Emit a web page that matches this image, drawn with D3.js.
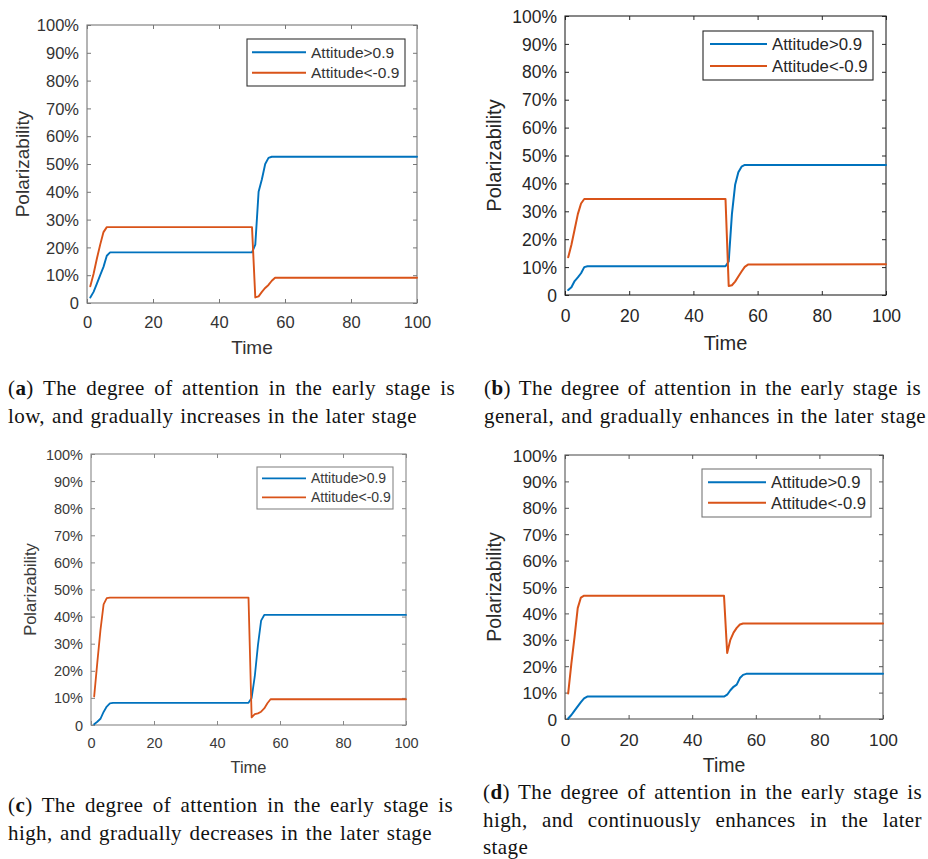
<!DOCTYPE html>
<html>
<head>
<meta charset="utf-8">
<script src="https://cdn.jsdelivr.net/npm/d3@7"></script>
<style>
  html, body { margin: 0; padding: 0; background: #fff; }
  svg { display: block; }
</style>
</head>
<body>
<svg id="fig" width="928" height="859"></svg>
<script>
// Simulation steps at which the polarizability curves were sampled
const timeSteps = [1, 2, 3, 4, 5, 6, 7, 50, 51, 52, 53, 54, 55, 56, 57, 100];

// Polarizability (%) of agents with attitude > 0.9 and attitude < -0.9
const posLowIncrease  = [2, 4, 7, 10, 13, 17, 18.2, 18.2, 21, 40, 44.5, 50, 52.2, 52.6, 52.6, 52.6];
const negLowIncrease  = [6, 10.5, 16, 21, 25.5, 27.3, 27.3, 27.3, 2, 2.4, 4, 5.4, 6.5, 8, 9.1, 9.1];
const posGeneral      = [1.8, 2.8, 5, 6.3, 7.8, 10, 10.3, 10.3, 12, 29, 39.5, 44, 46, 46.6, 46.6, 46.6];
const negGeneral      = [13.5, 18, 23.5, 29, 32.8, 34.4, 34.4, 34.4, 3.2, 3.5, 4.8, 6.6, 8.4, 10.1, 10.9, 11];
const posHighDecrease = [0.3, 1.2, 2.3, 4.8, 6.8, 8, 8.2, 8.2, 10, 18, 29.5, 38.5, 40.6, 40.6, 40.6, 40.6];
const negHighDecrease = [10.5, 23, 35, 44.5, 46.8, 47, 47, 47, 2.8, 4, 4.3, 4.9, 6.1, 8, 9.5, 9.5];
const posHighEnhance  = [0.2, 1.5, 3.2, 4.8, 6.4, 7.8, 8.5, 8.5, 9.2, 10.9, 12.2, 13, 15.5, 16.7, 17.1, 17.1];
const negHighEnhance  = [9.7, 21, 31, 42, 46, 46.7, 46.7, 46.7, 25, 30, 32.7, 34.5, 35.8, 36.2, 36.2, 36.2];

// Axis ticks and legend
const xTicks = [0, 20, 40, 60, 80, 100];
const yTicks = [0, 10, 20, 30, 40, 50, 60, 70, 80, 90, 100];
const seriesNames = ["Attitude>0.9", "Attitude<-0.9"];
const seriesColors = ["#0072BD", "#D95319"];
const xTitle = "Time";
const yTitle = "Polarizability";

// Sub-figure captions
const captionA = ["The degree of attention in the early stage is", "low, and gradually increases in the later stage"];
const captionB = ["The degree of attention in the early stage is", "general, and gradually enhances in the later stage"];
const captionC = ["The degree of attention in the early stage is", "high, and gradually decreases in the later stage"];
const captionD = ["The degree of attention in the early stage is", "high, and continuously enhances in the later", "stage"];

// Per-panel layout
const panels = [
  { series: [posLowIncrease, negLowIncrease],
    left: 87, right: 417, top: 25, bottom: 303,
    frame: "#777", ink: "#333", lw: 1.9,
    tickFs: 16.5, titleFs: 19, legFs: 15.5,
    xTickDy: 19.7, xTitleDy: 44.7, yTitleX: 22,
    legBox: [247, 39, 405, 86], legLine: [252, 306], legRows: [52.3, 72.7], legText: 311, legStroke: "#333",
    caption: { label: "a", lines: captionA, x: 8, ys: [395, 423], widths: [447, 409] } },
  { series: [posGeneral, negGeneral],
    left: 565, right: 886, top: 16, bottom: 295,
    frame: "#262626", ink: "#262626", lw: 2,
    tickFs: 17.5, titleFs: 20, legFs: 16.8,
    xTickDy: 21, xTitleDy: 48, yTitleX: 494,
    legBox: [703, 31, 873, 80], legLine: [710, 767], legRows: [44, 66], legText: 772, legStroke: "#262626",
    caption: { label: "b", lines: captionB, x: 484, ys: [395, 423], widths: [437, 442] } },
  { series: [posHighDecrease, negHighDecrease],
    left: 91, right: 406, top: 454, bottom: 725,
    frame: "#888", ink: "#3a3a3a", lw: 1.8,
    tickFs: 14.5, titleFs: 16.5, legFs: 14,
    xTickDy: 18.3, xTitleDy: 42.3, yTitleX: 30,
    legBox: [257, 467, 393, 509], legLine: [262, 306], legRows: [478.3, 497.3], legText: 311, legStroke: "#888",
    caption: { label: "c", lines: captionC, x: 8, ys: [812, 840], widths: [445, 424] } },
  { series: [posHighEnhance, negHighEnhance],
    left: 565, right: 883, top: 455, bottom: 719,
    frame: "#555", ink: "#2a2a2a", lw: 2,
    tickFs: 17.3, titleFs: 19.5, legFs: 16.7,
    xTickDy: 21, xTitleDy: 46, yTitleX: 494,
    legBox: [702, 469, 871, 517], legLine: [708, 766], legRows: [482.3, 502.7], legText: 771, legStroke: "#777",
    caption: { label: "d", lines: captionD, x: 483, ys: [799, 827, 854], widths: [439, 439, null] } }
];

const svg = d3.select("#fig");
const sansFont = "'Liberation Sans', Arial, Helvetica, sans-serif";
const serifFont = "'Liberation Serif', 'Times New Roman', serif";
const tickLen = 4;

panels.forEach(p => {
  const g = svg.append("g");
  const x = d3.scaleLinear().domain([0, 100]).range([p.left, p.right]);
  const y = d3.scaleLinear().domain([0, 100]).range([p.bottom, p.top]);

  // Inward ticks on all four sides
  const axes = [
    { gen: d3.axisBottom(x).tickValues(xTicks).tickSize(-tickLen), tr: `translate(0,${p.bottom})`, labels: true },
    { gen: d3.axisTop(x).tickValues(xTicks).tickSize(-tickLen).tickFormat(""), tr: `translate(0,${p.top})` },
    { gen: d3.axisLeft(y).tickValues(yTicks).tickSize(-tickLen)
        .tickFormat(v => v === 0 ? "0" : v + "%"), tr: `translate(${p.left},0)`, labels: true },
    { gen: d3.axisRight(y).tickValues(yTicks).tickSize(-tickLen).tickFormat(""), tr: `translate(${p.right},0)` }
  ];
  axes.forEach((a, i) => {
    const ax = g.append("g").attr("transform", a.tr).call(a.gen);
    ax.select(".domain").remove();
    ax.selectAll(".tick line").attr("stroke", p.frame).attr("stroke-width", 1);
    ax.selectAll(".tick text")
      .attr("fill", p.ink)
      .style("font-family", sansFont)
      .style("font-size", p.tickFs + "px");
    if (i === 0) ax.selectAll(".tick text").attr("y", p.xTickDy).attr("dy", "0.35em");
    if (i === 2) ax.selectAll(".tick text").attr("x", -8).attr("dy", "0.35em");
  });

  // Plot frame
  g.append("rect")
    .attr("x", p.left).attr("y", p.top)
    .attr("width", p.right - p.left).attr("height", p.bottom - p.top)
    .attr("fill", "none").attr("stroke", p.frame).attr("stroke-width", 1.1);

  // Curves
  const line = d3.line().x(d => x(d[0])).y(d => y(d[1]));
  p.series.forEach((vals, k) => {
    g.append("path")
      .datum(timeSteps.map((t, j) => [t, vals[j]]))
      .attr("d", line)
      .attr("fill", "none")
      .attr("stroke", seriesColors[k])
      .attr("stroke-width", p.lw)
      .attr("stroke-linejoin", "round")
      .attr("stroke-linecap", "round");
  });

  // Axis titles
  g.append("text")
    .attr("x", (p.left + p.right) / 2).attr("y", p.bottom + p.xTitleDy).attr("dy", "0.35em")
    .attr("text-anchor", "middle").attr("fill", p.ink)
    .style("font-family", sansFont).style("font-size", p.titleFs + "px")
    .text(xTitle);
  g.append("text")
    .attr("transform", `translate(${p.yTitleX},${(p.top + p.bottom) / 2}) rotate(-90)`)
    .attr("dy", "0.35em")
    .attr("text-anchor", "middle").attr("fill", p.ink)
    .style("font-family", sansFont).style("font-size", p.titleFs + "px")
    .text(yTitle);

  // Legend
  const [bx0, by0, bx1, by1] = p.legBox;
  g.append("rect")
    .attr("x", bx0).attr("y", by0).attr("width", bx1 - bx0).attr("height", by1 - by0)
    .attr("fill", "#fff").attr("stroke", p.legStroke).attr("stroke-width", 1.1);
  seriesNames.forEach((name, k) => {
    g.append("line")
      .attr("x1", p.legLine[0]).attr("x2", p.legLine[1])
      .attr("y1", p.legRows[k]).attr("y2", p.legRows[k])
      .attr("stroke", seriesColors[k]).attr("stroke-width", p.lw);
    g.append("text")
      .attr("x", p.legText).attr("y", p.legRows[k]).attr("dy", "0.35em")
      .attr("fill", p.ink)
      .style("font-family", sansFont).style("font-size", p.legFs + "px")
      .text(name);
  });

  // Caption, justified to its column width
  const c = p.caption;
  c.lines.forEach((txt, li) => {
    const t = svg.append("text")
      .attr("x", c.x).attr("y", c.ys[li])
      .attr("fill", "#111")
      .style("font-family", serifFont)
      .style("font-size", "21px")
      .style("letter-spacing", "0.4px");
    if (li === 0) {
      t.append("tspan").text("(");
      t.append("tspan").style("font-weight", "bold").text(c.label);
      t.append("tspan").text(") " + txt);
    } else {
      t.append("tspan").text(txt);
    }
    const target = c.widths[li];
    if (target) {
      const full = (li === 0 ? "(" + c.label + ") " : "") + txt;
      const spaces = (full.match(/ /g) || []).length;
      const natural = t.node().getComputedTextLength();
      if (spaces > 0) t.style("word-spacing", ((target - natural) / spaces) + "px");
    }
  });
});
</script>
</body>
</html>
